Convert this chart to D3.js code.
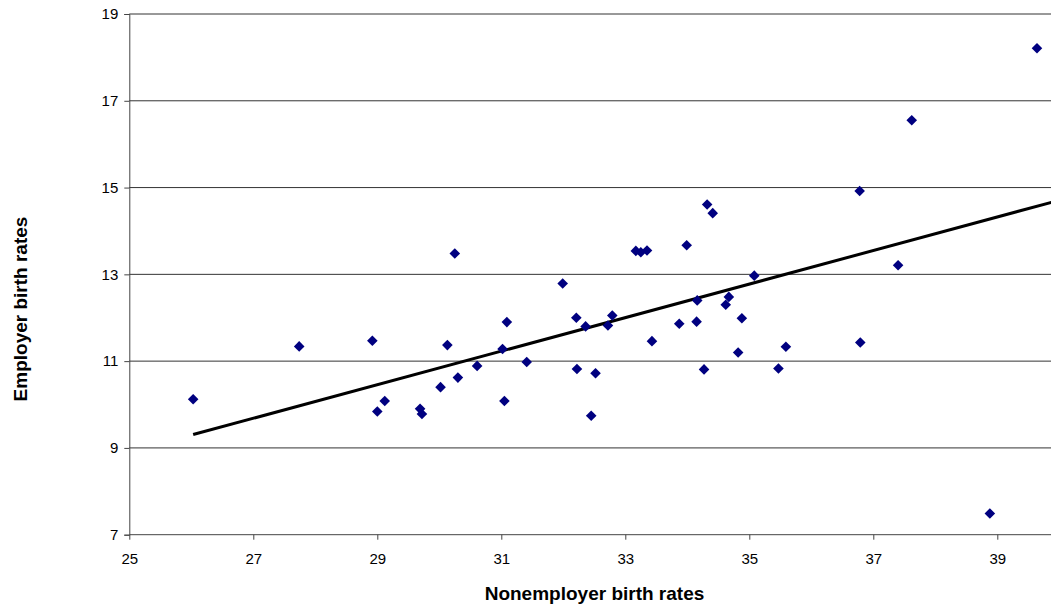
<!DOCTYPE html>
<html>
<head>
<meta charset="utf-8">
<script src="https://cdn.jsdelivr.net/npm/d3@7"></script>
<style>
  body { margin: 0; background: #fff; }
  svg { display: block; font-family: "Liberation Sans", Arial, sans-serif; }
</style>
</head>
<body>
<div id="chart"></div>
<script>
// nonemployer (x) and employer (y) birth rates
const nonemployer = [26.03, 27.74, 28.92, 29.00, 29.12, 29.69, 29.72, 30.02, 30.13, 30.25,
  30.30, 30.61, 31.02, 31.05, 31.09, 31.41, 31.99, 32.21, 32.22, 32.36,
  32.45, 32.52, 32.72, 32.79, 33.17, 33.25, 33.35, 33.43, 33.87, 33.99,
  34.15, 34.16, 34.27, 34.32, 34.41, 34.62, 34.67, 34.82, 34.88, 35.08,
  35.47, 35.59, 36.78, 36.79, 37.40, 37.62, 38.88, 39.64]
const employer = [10.12, 11.34, 11.47, 9.84, 10.08, 9.90, 9.78, 10.40, 11.37, 13.48,
  10.62, 10.89, 11.28, 10.08, 11.90, 10.98, 12.79, 12.00, 10.82, 11.80,
  9.74, 10.72, 11.82, 12.05, 13.54, 13.51, 13.55, 11.46, 11.86, 13.67,
  11.91, 12.40, 10.81, 14.61, 14.41, 12.30, 12.48, 11.20, 11.99, 12.97,
  10.83, 11.33, 14.92, 11.43, 13.21, 16.55, 7.49, 18.21]

// linear trendline as drawn in the original (slope / intercept)
const trendSlope = 0.3866
const trendIntercept = -0.755

const xTicks = [25, 27, 29, 31, 33, 35, 37, 39]
const yTicks = [7, 9, 11, 13, 15, 17, 19]

const W = 1051, H = 614
const margin = {left: 129.3, top: 14}
const plotW = 930, plotH = 520.7

const svg = d3.select("#chart").append("svg").attr("width", W).attr("height", H)
const g = svg.append("g").attr("transform", `translate(${margin.left},${margin.top})`)

const x = d3.scaleLinear().domain([25, 40]).range([0, plotW])
const y = d3.scaleLinear().domain([7, 19]).range([plotH, 0])

// horizontal gridlines
g.append("g")
  .selectAll("line")
  .data(yTicks.filter(t => t > 7))
  .join("line")
  .attr("x1", 0).attr("x2", plotW)
  .attr("y1", d => y(d)).attr("y2", d => y(d))
  .attr("stroke", "#333").attr("stroke-width", 1)

const yAxis = g.append("g")
  .call(d3.axisLeft(y).tickValues(yTicks).tickSize(5).tickPadding(6).tickFormat(d3.format("d")))
const xAxis = g.append("g")
  .attr("transform", `translate(0,${plotH})`)
  .call(d3.axisBottom(x).tickValues(xTicks).tickSize(5).tickPadding(14).tickFormat(d3.format("d")))

for (const ax of [xAxis, yAxis]) {
  ax.select(".domain").attr("stroke", "#444")
  ax.selectAll(".tick line").attr("stroke", "#444")
  ax.selectAll(".tick text").attr("fill", "#000").style("font-size", "15px")
    .style("font-family", "'Liberation Sans', Arial, sans-serif")
}
xAxis.select(".domain").attr("d", `M0.5,0H${plotW}`)

const trendX = [d3.min(nonemployer), 40]

g.append("path")
  .datum(trendX)
  .attr("d", d3.line().x(d => x(d)).y(d => y(trendIntercept + trendSlope * d)))
  .attr("stroke", "#000").attr("stroke-width", 3).attr("fill", "none")

// diamond markers
g.append("g")
  .selectAll("path")
  .data(nonemployer.map((v, i) => [v, employer[i]]))
  .join("path")
  .attr("transform", d => `translate(${x(d[0])},${y(d[1])})`)
  .attr("d", "M0,-5.3L5.3,0L0,5.3L-5.3,0Z")
  .attr("fill", "#000080")

svg.append("text")
  .attr("x", 594.5).attr("y", 600)
  .attr("text-anchor", "middle")
  .style("font-size", "19px").style("font-weight", "bold")
  .text("Nonemployer birth rates")

svg.append("text")
  .attr("transform", "translate(27,309) rotate(-90)")
  .attr("text-anchor", "middle")
  .style("font-size", "19px").style("font-weight", "bold")
  .text("Employer birth rates")
</script>
</body>
</html>
